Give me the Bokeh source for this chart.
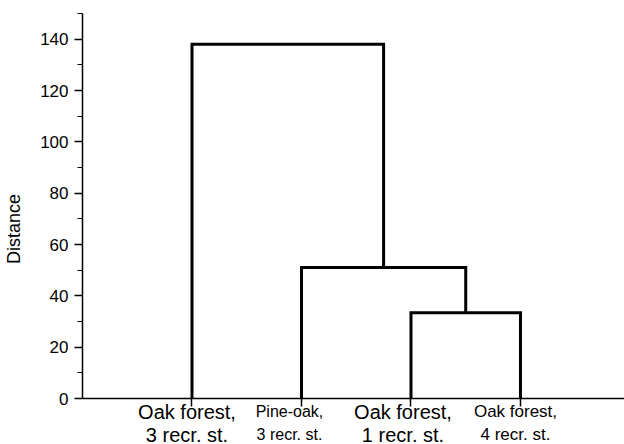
from bokeh.plotting import figure
from bokeh.models import Range1d, SingleIntervalTicker, FixedTicker, ColumnDataSource
from bokeh.core.properties import value
from bokeh.embed import file_html
from bokeh.resources import INLINE

# ---- data ----
leaf_line1 = ["Oak forest,", "Pine-oak,", "Oak forest,", "Oak forest,"]
leaf_line2 = ["3 recr. st.", "3 recr. st.", "1 recr. st.", "4 recr. st."]
leaf_pos = [1, 2, 3, 4]
# merges: (child a, child b, height); leaves are nodes 0..3, new clusters 4, 5, 6
merge_a = [2, 1, 0]
merge_b = [3, 4, 5]
merge_height = [33.4, 51.0, 138.0]
y_max = 150
y_tick_interval = 20

# ---- style / layout ----
FONT = "Liberation Sans"
label_sizes = ["20px", "16px", "20px", "17px"]
label_dx = [-5, -12, -8, -5]
W, H = 624, 444
FRAME_LEFT, FRAME_TOP, ZERO_PX = 82, 13, 398
px_per_unit = (ZERO_PX - FRAME_TOP) / y_max
y_min = -(H - ZERO_PX) / px_per_unit

# node coordinates
node_x = list(leaf_pos)
node_y = [0.0] * len(leaf_pos)
xs, ys = [], []
for a, b, h in zip(merge_a, merge_b, merge_height):
    xa, ya, xb, yb = node_x[a], node_y[a], node_x[b], node_y[b]
    xs.append([xa, xa, xb, xb])
    ys.append([ya, h, h, yb])
    node_x.append((xa + xb) / 2.0)
    node_y.append(h)

p = figure(width=W, height=H, x_range=Range1d(0, 4.95), y_range=Range1d(y_min, y_max),
           x_axis_location="above",
           output_backend="svg", toolbar_location=None,
           min_border_left=FRAME_LEFT, min_border_right=0, min_border_top=FRAME_TOP,
           min_border_bottom=0)
p.outline_line_color = None
p.grid.visible = False

p.multi_line(xs, ys, line_color="black", line_width=3, line_join="miter")

ya = p.yaxis[0]
ya.ticker = SingleIntervalTicker(interval=y_tick_interval, num_minor_ticks=2)
ya.bounds = (0, y_max)
ya.major_tick_out = 8
ya.major_tick_in = 0
ya.minor_tick_out = 5
ya.minor_tick_in = 0
ya.axis_line_width = 1.5
ya.major_tick_line_width = 1.5
ya.minor_tick_line_width = 1.2
ya.axis_label = "Distance"
ya.axis_label_text_font = FONT
ya.axis_label_text_font_size = "18px"
ya.axis_label_text_font_style = "normal"
ya.axis_label_text_color = "black"
ya.axis_label_standoff = 13
ya.major_label_text_font = FONT
ya.major_label_text_font_size = "17px"
ya.major_label_standoff = 6
ya.major_label_text_color = "black"

xa_ = p.xaxis[0]
xa_.fixed_location = 0
xa_.ticker = FixedTicker(ticks=leaf_pos, minor_ticks=[])
xa_.major_tick_out = 0
xa_.major_tick_in = 8
xa_.minor_tick_out = 0
xa_.minor_tick_in = 0
xa_.axis_line_width = 1.5
xa_.major_tick_line_width = 1.5
xa_.major_label_overrides = {t: "" for t in leaf_pos}
xa_.major_label_standoff = 0

src = ColumnDataSource(dict(x=leaf_pos, y=[0] * len(leaf_pos), l1=leaf_line1, l2=leaf_line2,
                            fs=label_sizes, dx=label_dx))
p.text(x="x", y="y", text="l1", source=src, x_offset="dx", y_offset=13,
       text_align="center", text_baseline="middle", text_font=value(FONT),
       text_font_size="fs", text_color="black")
p.text(x="x", y="y", text="l2", source=src, x_offset="dx", y_offset=36,
       text_align="center", text_baseline="middle", text_font=value(FONT),
       text_font_size="fs", text_color="black")

open("out.html", "w").write(file_html(p, INLINE))
